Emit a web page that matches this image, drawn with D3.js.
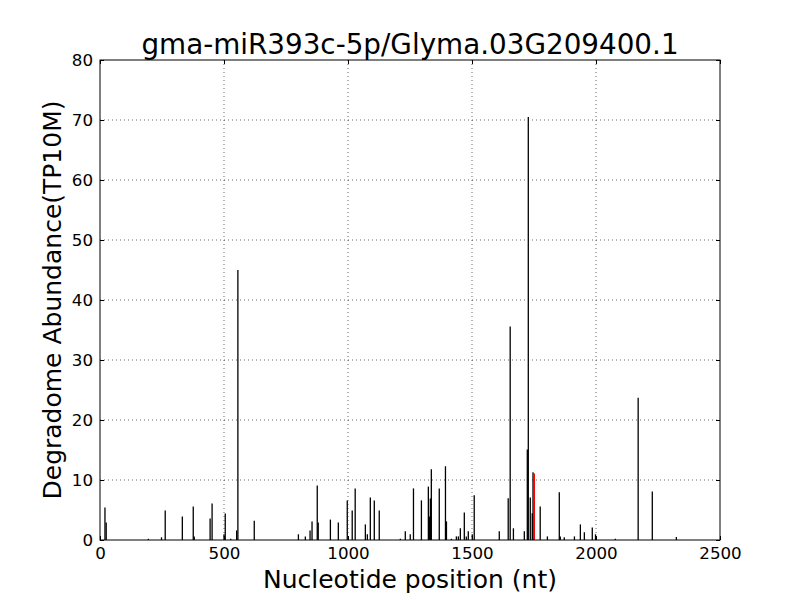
<!DOCTYPE html>
<html><head><meta charset="utf-8">
<script src="https://cdn.jsdelivr.net/npm/d3@7"></script>
<style>body{margin:0;background:#fff}svg{font-family:"DejaVu Sans",sans-serif}</style>
</head><body><svg id="c" width="800" height="600"></svg>
<script>
const positions = [20,25,195,248,263,332,376,380,444,452,500,505,527,551,556,622,
 800,828,847,855,876,880,929,961,997,1017,1029,1070,1078,1090,1106,1126,1211,1231,1251,1264,1296,1324,1328,1332,1336,1368,1393,1397,1417,1437,1445,1453,1469,1477,1485,1501,1509,
 1610,1646,1654,1667,1711,1723,1727,1735,1743,1746,1775,1804,1852,1856,1872,1913,1937,1953,1985,1998,2078,2170,2227,2324];
const values = [5.4,2.9,0.2,0.45,4.9,3.9,5.6,0.6,3.6,6.1,0.95,4.4,0.2,1.6,45,3.2,
 0.95,0.6,1.6,3.1,9.1,2.9,3.4,2.9,6.6,4.9,8.6,2.6,0.95,7.1,6.6,4.9,0.2,1.45,0.95,8.6,6.6,8.9,3.9,6.9,11.8,8.6,12.3,3.1,0.2,0.6,0.6,1.95,4.6,0.6,1.45,0.95,7.45,
 1.45,6.95,35.6,1.95,1.45,15.1,70.5,7.1,4.45,11.3,5.6,0.6,7.95,0.6,0.45,0.6,2.6,1.3,2.1,0.95,0.2,23.7,8.1,0.5];
const targetPos = [1750];
const targetVal = [11.1];
const xTicks = [0,500,1000,1500,2000,2500];
const yTicks = [0,10,20,30,40,50,60,70,80];
const title = "gma-miR393c-5p/Glyma.03G209400.1";
const xLabel = "Nucleotide position (nt)";
const yLabel = "Degradome Abundance(TP10M)";

const svg = d3.select("#c");
const L=100,R=720,T=60,B=540;
const x = d3.scaleLinear().domain([0,2500]).range([L,R]);
const y = d3.scaleLinear().domain([0,80]).range([B,T]);

// grid
const g = svg.append("g");
g.selectAll(".gx").data(xTicks.slice(1,-1)).enter().append("line")
 .attr("x1",d=>x(d)).attr("x2",d=>x(d)).attr("y1",T).attr("y2",B)
 .attr("stroke","#000").attr("stroke-width",0.6).attr("stroke-dasharray","1,3");
g.selectAll(".gy").data(yTicks.slice(1,-1)).enter().append("line")
 .attr("y1",d=>y(d)).attr("y2",d=>y(d)).attr("x1",L).attr("x2",R)
 .attr("stroke","#000").attr("stroke-width",0.6).attr("stroke-dasharray","1,3");

// bars
svg.append("g").selectAll("line").data(positions.map((p,i)=>({p,v:values[i]}))).enter().append("line")
 .attr("x1",d=>x(d.p)).attr("x2",d=>x(d.p)).attr("y1",y(0)).attr("y2",d=>y(d.v))
 .attr("stroke","#000").attr("stroke-width",1.3);
svg.append("g").selectAll("line").data(targetPos.map((p,i)=>({p,v:targetVal[i]}))).enter().append("line")
 .attr("x1",d=>x(d.p)).attr("x2",d=>x(d.p)).attr("y1",y(0)).attr("y2",d=>y(d.v))
 .attr("stroke","#ff0000").attr("stroke-width",2);

// axes (ticks inward)
const ax = svg.append("g");
ax.append("g").attr("transform",`translate(0,${B})`)
 .call(d3.axisBottom(x).tickValues(xTicks).tickSize(-4).tickPadding(7).tickFormat(d3.format("d")));
ax.append("g").attr("transform",`translate(0,${T})`)
 .call(d3.axisTop(x).tickValues(xTicks).tickSize(-4).tickFormat(""));
ax.append("g").attr("transform",`translate(${L},0)`)
 .call(d3.axisLeft(y).tickValues(yTicks).tickSize(-4).tickPadding(7).tickFormat(d3.format("d")));
ax.append("g").attr("transform",`translate(${R},0)`)
 .call(d3.axisRight(y).tickValues(yTicks).tickSize(-4).tickFormat(""));
ax.selectAll(".domain").remove();
ax.selectAll("text").attr("font-size",16.7).attr("fill","#000").attr("font-family","DejaVu Sans");
ax.selectAll(".tick line").attr("stroke","#000");
svg.append("rect").attr("x",L).attr("y",T).attr("width",R-L).attr("height",B-T)
 .attr("fill","none").attr("stroke","#000").attr("stroke-width",1);

svg.append("text").attr("x",(L+R)/2).attr("y",54).attr("text-anchor","middle")
 .attr("font-size",27.8).text(title);
svg.append("text").attr("x",(L+R)/2).attr("y",588).attr("text-anchor","middle")
 .attr("font-size",25).text(xLabel);
svg.append("text").attr("transform",`translate(61,${(T+B)/2}) rotate(-90)`).attr("text-anchor","middle")
 .attr("font-size",25).text(yLabel);
</script></body></html>
